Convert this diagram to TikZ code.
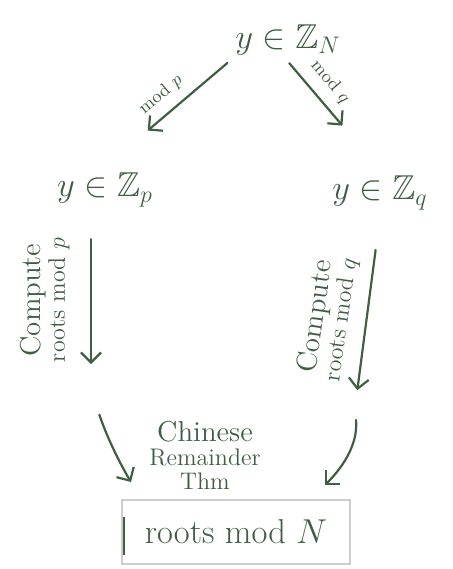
\documentclass[tikz,border=0pt]{standalone}
\usepackage{amsmath,amssymb}
\usepackage{xcolor}
\usepackage{tikz}
\usetikzlibrary{arrows.meta,positioning,calc}
\definecolor{inkgreen}{RGB}{64,94,66}
\definecolor{boxgray}{RGB}{205,205,205}
\tikzstyle{set} = [text=inkgreen, font=\LARGE, inner sep=3pt]
\tikzstyle{note} = [text=inkgreen, align=center, inner sep=1pt]
\tikzstyle{arrow} = [draw=inkgreen, line width=1.1pt, line cap=round,
    -{Straight Barb[length=5pt,width=10pt]}]
\tikzstyle{result} = [rectangle, draw=boxgray, line width=0.8pt, minimum width=114pt,
    minimum height=32pt, text=inkgreen, font=\LARGE]

\begin{document}
\begin{tikzpicture}[x=0.5pt,y=-0.5pt]
\useasboundingbox (0,0) rectangle (452,569);
% Sets
\node[set] (zn) at (288,40) {$y \in \mathbb{Z}_N$};
\node[set] (zp) at (105,190) {$y \in \mathbb{Z}_p$};
\node[set] (zq) at (380,193) {$y \in \mathbb{Z}_q$};
% Roots
\coordinate (rp) at (91,390);
\coordinate (rq) at (355,408);
% Result
\node[result] (res) at (236,532) {roots mod $N$};
\draw[inkgreen, line width=1.1pt] ([xshift=1.5pt,yshift=-9pt]res.north west) -- ([xshift=1.5pt,yshift=5pt]res.south west);
% Arrows
\draw[arrow, shorten <=1pt, shorten >=28pt] (zn.south west) -- (zp.north)
    node[note, pos=0.45, above=4pt, sloped, font=\small] (modp) {mod $p$};
\draw[arrow, shorten <=1pt, shorten >=29pt] (zn.south) -- (zq.north)
    node[note, pos=0.3, above=4pt, sloped, font=\small] (modq) {mod $q$};
\draw[arrow, shorten <=13pt, shorten >=13pt] (zp.south -| rp) -- (rp);
\draw[arrow, shorten <=17pt, shorten >=9pt] (zq.south) -- (rq);
\draw[arrow, shorten <=13pt, shorten >=10pt] (rp) to[bend right=6] ([xshift=10pt]res.north west);
\draw[arrow, shorten <=6pt, shorten >=10pt] (rq) to[out=-85, in=45] ([xshift=-20pt]res.north east);
% Labels
\node[note, rotate=90] (cp) at (45,300) {{\Large Compute}\\{\large roots mod $p$}};
\node[note, rotate=82] (cq) at (328,318) {{\Large Compute}\\{\large roots mod $q$}};
\node[note] (crt) at (205,455) {{\Large Chinese}\\{\large Remainder}\\{\large Thm}};
\end{tikzpicture}
\end{document}
